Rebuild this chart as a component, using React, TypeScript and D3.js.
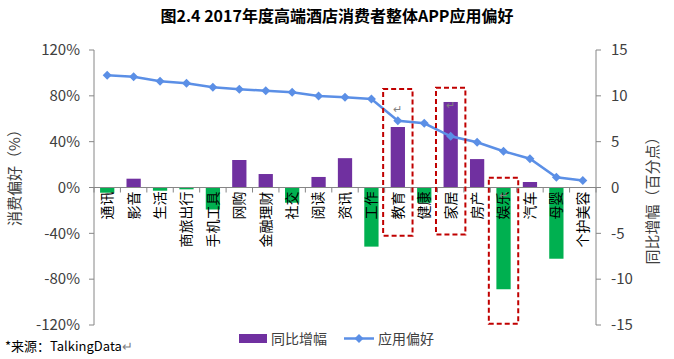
import React from "react";
import * as d3 from "d3";

const categories = ["通讯","影音","生活","商旅出行","手机工具","网购","金融理财","社交","阅读","资讯","工作","教育","健康","家居","房产","娱乐","汽车","母婴","个护美容"];
// 同比增幅（百分点）- bars, right axis
const growth = [-0.57,0.96,-0.35,-0.2,-2.4,3.0,1.47,-1.66,1.15,3.2,-6.45,6.6,-1.66,9.33,3.1,-11.1,0.6,-7.77,0];
// 应用偏好（%）- line, left axis
const preference = [97.9,96.7,92.7,90.9,87.4,85.7,84.5,83.1,79.9,78.7,77.2,58.3,56.0,44.7,39.5,31.6,25.1,8.9,6.1];
const leftTicks = [120,80,40,0,-40,-80,-120];
const rightTicks = [15,10,5,0,-5,-10,-15];
// highlighted categories with box extents in left-axis units
const boxes = [
  { cat: "教育", top: 86, bottom: -42 },
  { cat: "家居", top: 87, bottom: -41 },
  { cat: "娱乐", top: 8.5, bottom: -119 },
];
const returnMarks = [
  { cat: "教育", v: 68 },
  { cat: "家居", v: 72 },
  { cat: "娱乐", v: -7 },
];

const W = 674, H = 359;
const left = 94, right = 596, top = 50, bottom = 325;
const font = "'Noto Sans CJK SC', 'Noto Sans', sans-serif";

export default function App() {
  const x = d3.scaleBand<string>().domain(categories).range([left, right]).padding(0);
  const yL = d3.scaleLinear().domain([-120, 120]).range([bottom, top]);
  const yR = d3.scaleLinear().domain([-15, 15]).range([bottom, top]);
  const bw = x.bandwidth();
  const barW = bw * 0.54;
  const cx = (c: string) => (x(c) as number) + bw / 2;
  const y0 = yR(0);
  const line = d3.line<number>().x((_, i) => cx(categories[i])).y(d => yL(d));
  const axisColor = "#868686";
  const lineColor = "#5B8FE6";

  return (
    <svg width={W} height={H} style={{ position: "absolute", left: 0, top: 0, background: "#fff" }} fontFamily={font}>
      <text x={337} y={22} textAnchor="middle" fontSize={16} fontWeight="bold" fill="#000">图2.4 2017年度高端酒店消费者整体APP应用偏好</text>

      {/* bars */}
      {growth.map((g, i) => (
        <rect key={i} x={cx(categories[i]) - barW / 2} width={barW}
          y={Math.min(yR(g), y0)} height={Math.abs(yR(g) - y0)}
          fill={g >= 0 ? "#7030A0" : "#00B050"} />
      ))}

      {/* axes */}
      <line x1={left} x2={left} y1={top} y2={bottom} stroke={axisColor} />
      <line x1={right} x2={right} y1={top} y2={bottom} stroke={axisColor} />
      <line x1={left} x2={right} y1={y0} y2={y0} stroke={axisColor} />
      {leftTicks.map(t => (
        <g key={"l" + t}>
          <line x1={left - 5} x2={left} y1={yL(t)} y2={yL(t)} stroke={axisColor} />
          <text x={80} y={yL(t)} dy="0.35em" textAnchor="end" fontSize={15} fill="#404040">{t}%</text>
        </g>
      ))}
      {rightTicks.map(t => (
        <g key={"r" + t}>
          <line x1={right} x2={right + 5} y1={yR(t)} y2={yR(t)} stroke={axisColor} />
          <text x={611} y={yR(t)} dy="0.35em" textAnchor="start" fontSize={15} fill="#404040">{t}</text>
        </g>
      ))}
      {categories.map((c, i) => (
        <line key={"xt" + i} x1={x(c) as number} x2={x(c) as number} y1={y0} y2={y0 + 5} stroke={axisColor} />
      ))}
      <line x1={right} x2={right} y1={y0} y2={y0 + 5} stroke={axisColor} />

      {/* category labels */}
      {categories.map(c => (
        <text key={"lab" + c} transform={`translate(${cx(c)},${y0 + 4}) rotate(-90)`} textAnchor="end" dy="0.35em" fontSize={14} fill="#000">{c}</text>
      ))}

      {/* line */}
      <path d={line(preference) || ""} fill="none" stroke={lineColor} strokeWidth={2.5} />
      {preference.map((p, i) => {
        const px = cx(categories[i]), py = yL(p), s = 4.5;
        return <path key={"m" + i} d={`M${px},${py - s}L${px + s},${py}L${px},${py + s}L${px - s},${py}Z`} fill={lineColor} />;
      })}

      {/* highlight boxes */}
      {boxes.map(b => (
        <rect key={"b" + b.cat} x={cx(b.cat) - 14.7} width={29.4} y={yL(b.top)} height={yL(b.bottom) - yL(b.top)}
          fill="none" stroke="#C00000" strokeWidth={2} strokeDasharray="5,3" />
      ))}
      {returnMarks.map(r => (
        <text key={"rm" + r.cat} x={cx(r.cat)} y={yL(r.v)} dy="0.35em" textAnchor="middle" fontSize={11} fill="#808080">↵</text>
      ))}

      {/* axis titles */}
      <text transform={`translate(15,174) rotate(-90)`} textAnchor="middle" dy="0.35em" fontSize={15} fill="#404040">消费偏好（%）</text>
      <text transform={`translate(653,197) rotate(-90)`} textAnchor="middle" dy="0.35em" fontSize={15} fill="#404040">同比增幅（百分点）</text>

      {/* legend */}
      <rect x={239} y={334} width={28} height={9} fill="#7030A0" />
      <text x={271} y={339} dy="0.35em" fontSize={14} fill="#404040">同比增幅</text>
      <line x1={344} x2={374} y1={338.5} y2={338.5} stroke={lineColor} strokeWidth={2.5} />
      <path d="M359,334L363.5,338.5L359,343L354.5,338.5Z" fill={lineColor} />
      <text x={378} y={339} dy="0.35em" fontSize={14} fill="#404040">应用偏好</text>

      {/* source */}
      <text x={5} y={346} dy="0.35em" fontSize={13} fill="#000">*来源：TalkingData<tspan fill="#808080">↵</tspan></text>
    </svg>
  );
}
